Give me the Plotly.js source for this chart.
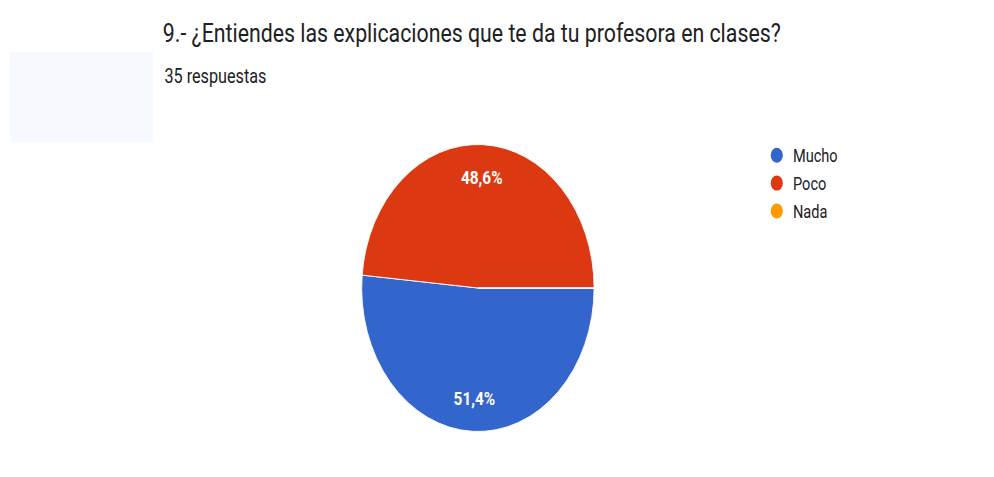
<!DOCTYPE html>
<html>
<head>
<meta charset="utf-8">
<script src="https://cdn.plot.ly/plotly-3.0.1.min.js"></script>
<style>
  html, body { margin: 0; padding: 0; background: #ffffff; overflow: hidden; width: 994px; height: 477px; }
  #chart { width: 1227px; height: 477px; transform: scaleX(0.81); transform-origin: 0 0; }
</style>
</head>
<body>
<div id="chart"></div>
<script>
const categories = ["Mucho", "Poco", "Nada"];
const counts = [18, 17, 0];
const colors = ["#3366CC", "#DC3912", "#FF9900"];
const titleText = "9.- ¿Entiendes las explicaciones que te da tu profesora en clases?";
const subtitleText = "35 respuestas";

const W = 1227, H = 477;
const cx = 590, cy = 288, r = 143.5;
const startDeg = 90;      // first slice starts at 3 o'clock
const labelFrac = 0.77;   // radial position of the percentage labels

const pie = {
  type: "pie",
  labels: categories,
  values: counts,
  sort: false,
  direction: "clockwise",
  rotation: startDeg,
  marker: { colors: colors, line: { color: "#ffffff", width: 1 } },
  textinfo: "none",
  textposition: "none",
  hoverinfo: "none",
  showlegend: false,
  domain: { x: [(cx - r) / W, (cx + r) / W], y: [(H - cy - r) / H, (H - cy + r) / H] }
};

// percentage labels placed from the data (slice mid-angles)
const total = counts.reduce((a, b) => a + b, 0);
const labelAnns = [];
let acc = 0;
counts.forEach((v, i) => {
  if (v > 0) {
    const midFromTop = startDeg + (acc + v / 2) / total * 360; // clockwise from 12 o'clock
    const t = midFromTop * Math.PI / 180;
    const px = cx + labelFrac * r * Math.sin(t);
    const py = cy - labelFrac * r * Math.cos(t);
    const pct = (v / total * 100).toFixed(1).replace(".", ",") + "%";
    labelAnns.push({
      text: pct, xref: "paper", yref: "paper",
      x: px / W, y: 1 - py / H, xanchor: "center", yanchor: "middle",
      showarrow: false,
      font: { family: "Roboto, Arial, sans-serif", size: 19, color: "#ffffff", weight: 700 }
    });
  }
  acc += v;
});

const legendTraces = categories.map((c, i) => ({
  type: "scatter",
  mode: "markers",
  x: [null], y: [null],
  name: c,
  legendgroup: c,
  marker: { color: colors[i], size: 15, symbol: "circle" },
  hoverinfo: "none",
  showlegend: true
}));

const layout = {
  width: W, height: H,
  margin: { l: 0, r: 0, t: 0, b: 0 },
  paper_bgcolor: "#ffffff",
  plot_bgcolor: "rgba(0,0,0,0)",
  separators: ",.",
  xaxis: { visible: false },
  yaxis: { visible: false },
  title: {
    text: titleText,
    font: { family: "Roboto, Arial, sans-serif", size: 26.3, color: "#202124" },
    x: 201 / W, xref: "paper", xanchor: "left",
    y: 1 - 33 / H, yref: "container", yanchor: "middle"
  },
  annotations: [{
    text: subtitleText,
    xref: "paper", yref: "paper",
    x: 201 / W, y: 1 - 76 / H,
    xanchor: "left", yanchor: "middle",
    showarrow: false,
    font: { family: "Roboto, Arial, sans-serif", size: 20, color: "#202124" }
  }].concat(labelAnns),
  shapes: [{
    type: "rect", xref: "paper", yref: "paper", layer: "below",
    x0: 12 / W, x1: 189 / W, y0: 1 - 142 / H, y1: 1 - 52 / H,
    fillcolor: "#f6f9fd", line: { width: 0 }
  }],
  showlegend: true,
  legend: {
    x: 939 / W, xanchor: "left",
    y: 1 - 137 / H, yanchor: "top",
    traceorder: "grouped",
    tracegroupgap: 1.5,
    font: { family: "Roboto, Arial, sans-serif", size: 18, color: "#202124" },
    bgcolor: "rgba(0,0,0,0)"
  }
};

Plotly.newPlot("chart", [pie].concat(legendTraces), layout, { displayModeBar: false, staticPlot: true });
</script>
</body>
</html>
